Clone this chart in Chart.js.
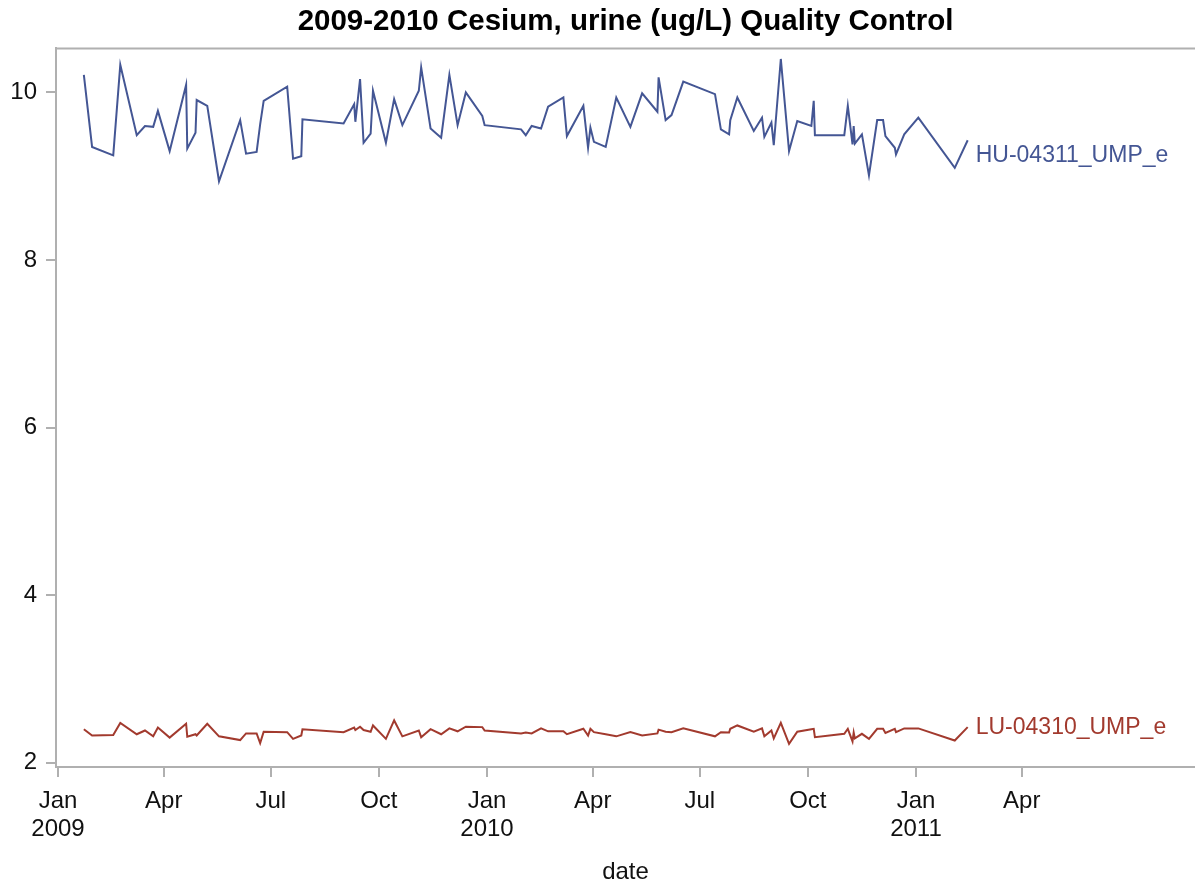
<!DOCTYPE html>
<html>
<head>
<meta charset="utf-8">
<script src="https://cdn.jsdelivr.net/npm/chart.js@4"></script>
<style>
  html, body { margin: 0; padding: 0; background: #fff; }
  #wrap { width: 1195px; height: 886px; }
</style>
</head>
<body>
<div id="wrap"><canvas id="myChart" width="1195" height="886"></canvas></div>
<script>
// run dates (shared by both QC pools)
const runDates = [
    '2009-01-23', '2009-01-30', '2009-02-17', '2009-02-23', '2009-03-09', '2009-03-16', '2009-03-23', '2009-03-27',
    '2009-04-06', '2009-04-20', '2009-04-21', '2009-04-28', '2009-04-29', '2009-05-08', '2009-05-18', '2009-06-05',
    '2009-06-10', '2009-06-19', '2009-06-22', '2009-06-25', '2009-07-15', '2009-07-20', '2009-07-27', '2009-07-28',
    '2009-09-01', '2009-09-10', '2009-09-11', '2009-09-15', '2009-09-18', '2009-09-24', '2009-09-26', '2009-10-07',
    '2009-10-14', '2009-10-21', '2009-11-04', '2009-11-06', '2009-11-14', '2009-11-23', '2009-11-30', '2009-12-07',
    '2009-12-14', '2009-12-28', '2009-12-30', '2010-01-30', '2010-02-03', '2010-02-08', '2010-02-16', '2010-02-22',
    '2010-03-07', '2010-03-10', '2010-03-24', '2010-03-28', '2010-03-30', '2010-04-02', '2010-04-12', '2010-04-21',
    '2010-05-03', '2010-05-13', '2010-05-26', '2010-05-27', '2010-06-02', '2010-06-07', '2010-06-17', '2010-07-14',
    '2010-07-19', '2010-07-26', '2010-07-27', '2010-08-02', '2010-08-16', '2010-08-23', '2010-08-25', '2010-08-31',
    '2010-09-02', '2010-09-08', '2010-09-15', '2010-09-22', '2010-10-04', '2010-10-06', '2010-10-07', '2010-11-01',
    '2010-11-04', '2010-11-08', '2010-11-09', '2010-11-10', '2010-11-16', '2010-11-22', '2010-11-29', '2010-12-04',
    '2010-12-06', '2010-12-14', '2010-12-15', '2010-12-22', '2011-01-03', '2011-02-03', '2011-02-14'
];

const huValues = [
    10.21, 9.35, 9.25, 10.33, 9.49, 9.60, 9.59, 9.78, 9.30, 10.09, 9.33, 9.52, 9.91, 9.84, 8.94, 9.67,
    9.27, 9.29, 9.62, 9.90, 10.07, 9.21, 9.24, 9.68, 9.63, 9.86, 9.65, 10.16, 9.40, 9.51, 10.02, 9.40,
    9.92, 9.61, 10.02, 10.30, 9.57, 9.46, 10.21, 9.61, 10.00, 9.72, 9.61, 9.56, 9.49, 9.60, 9.57, 9.83,
    9.94, 9.48, 9.84, 9.34, 9.58, 9.41, 9.35, 9.94, 9.59, 9.99, 9.77, 10.18, 9.67, 9.73, 10.13, 9.98,
    9.56, 9.50, 9.67, 9.94, 9.54, 9.70, 9.47, 9.64, 9.37, 10.40, 9.30, 9.66, 9.60, 9.90, 9.49, 9.49,
    9.84, 9.38, 9.60, 9.39, 9.50, 9.01, 9.67, 9.67, 9.48, 9.34, 9.26, 9.50, 9.70, 9.10, 9.43
];

const luValues = [
    2.40, 2.325, 2.33, 2.475, 2.34, 2.385, 2.315, 2.42, 2.30, 2.465, 2.31, 2.34, 2.325, 2.465, 2.315, 2.27,
    2.35, 2.35, 2.235, 2.37, 2.365, 2.285, 2.325, 2.40, 2.365, 2.42, 2.39, 2.43, 2.39, 2.37, 2.445, 2.285,
    2.505, 2.315, 2.385, 2.305, 2.40, 2.34, 2.41, 2.375, 2.43, 2.425, 2.385, 2.35, 2.36, 2.35, 2.41, 2.375,
    2.375, 2.34, 2.405, 2.325, 2.405, 2.365, 2.34, 2.315, 2.365, 2.325, 2.35, 2.395, 2.37, 2.365, 2.41, 2.315,
    2.365, 2.36, 2.405, 2.445, 2.37, 2.41, 2.315, 2.385, 2.29, 2.475, 2.225, 2.37, 2.40, 2.405, 2.305, 2.345,
    2.405, 2.255, 2.36, 2.29, 2.345, 2.285, 2.405, 2.405, 2.355, 2.405, 2.365, 2.41, 2.41, 2.265, 2.425
];

const seriesNames = ['HU-04311_UMP_e', 'LU-04310_UMP_e'];
const seriesColors = ['#445694', '#A23A2E'];

const xTickDates = ['2009-01-01', '2009-04-01', '2009-07-01', '2009-10-01', '2010-01-01', '2010-04-01',
    '2010-07-01', '2010-10-01', '2011-01-01', '2011-04-01'];
const xTickLabels = [['Jan', '2009'], 'Apr', 'Jul', 'Oct', ['Jan', '2010'], 'Apr', 'Jul', 'Oct', ['Jan', '2011'], 'Apr'];
const yTickValues = [2, 4, 6, 8, 10];

const chartTitle = '2009-2010 Cesium, urine (ug/L) Quality Control';
const xAxisTitle = 'date';

// days since 2009-01-01
const origin = Date.UTC(2009, 0, 1);
function toDays(s) {
    const p = s.split('-').map(Number);
    return (Date.UTC(p[0], p[1] - 1, p[2]) - origin) / 86400000;
}

const FONT = "'Liberation Sans', Arial, sans-serif";
const axisGray = '#b0b0b0';
const endLabelShift = [15, 1]; // vertical nudge of end labels

const framePlugin = {
    id: 'frame',
    afterDraw(chart) {
        const { ctx, chartArea } = chart;
        ctx.save();
        ctx.strokeStyle = axisGray;
        ctx.lineWidth = 2;
        ctx.beginPath();
        ctx.moveTo(chartArea.left, chartArea.bottom);
        ctx.lineTo(chartArea.left, chartArea.top);
        ctx.lineTo(chart.width + 2, chartArea.top);
        ctx.stroke();
        ctx.restore();
    }
};

const endLabelPlugin = {
    id: 'endLabels',
    afterDatasetsDraw(chart) {
        const ctx = chart.ctx;
        ctx.save();
        ctx.font = '23px ' + FONT;
        ctx.textAlign = 'left';
        ctx.textBaseline = 'middle';
        chart.data.datasets.forEach((ds, i) => {
            const pts = chart.getDatasetMeta(i).data;
            const last = pts[pts.length - 1];
            ctx.fillStyle = seriesColors[i];
            ctx.fillText(ds.label, last.x + 8, last.y + endLabelShift[i]);
        });
        ctx.restore();
    }
};

const ctx = document.getElementById('myChart').getContext('2d');
const myChart = new Chart(ctx, {
    type: 'line',
    data: {
        datasets: [huValues, luValues].map((vals, i) => ({
            label: seriesNames[i],
            data: vals.map((v, j) => ({ x: toDays(runDates[j]), y: v })),
            borderColor: seriesColors[i],
            borderWidth: 2,
            pointRadius: 0,
            tension: 0,
            fill: false
        }))
    },
    options: {
        responsive: false,
        animation: false,
        layout: { padding: { left: 0, right: 0, top: 0, bottom: 0 } },
        plugins: {
            legend: { display: false },
            tooltip: { enabled: false },
            title: {
                display: true,
                fullSize: false,
                text: chartTitle,
                color: '#000',
                font: { family: FONT, size: 29.5, weight: 'bold' },
                padding: { top: 4, bottom: 9 }
            }
        },
        scales: {
            x: {
                type: 'linear',
                min: -1.7,
                max: 967.4,
                afterBuildTicks: (scale) => {
                    scale.ticks = xTickDates.map(d => ({ value: toDays(d) }));
                },
                afterFit: (scale) => { scale.height = 119; },
                ticks: {
                    autoSkip: false,
                    maxRotation: 0,
                    color: '#111',
                    padding: 10,
                    font: { family: FONT, size: 24, lineHeight: 1.17 },
                    callback: (value, index) => xTickLabels[index]
                },
                grid: {
                    drawOnChartArea: false,
                    drawTicks: true,
                    tickLength: 10,
                    color: axisGray,
                    lineWidth: 2
                },
                border: { color: axisGray, width: 2 },
                title: {
                    display: true,
                    text: xAxisTitle,
                    color: '#111',
                    font: { family: FONT, size: 24, lineHeight: 1.17 },
                    padding: { top: 0, bottom: 0 }
                }
            },
            y: {
                type: 'linear',
                min: 1.949,
                max: 10.526,
                afterBuildTicks: (scale) => {
                    scale.ticks = yTickValues.map(v => ({ value: v }));
                },
                afterFit: (scale) => { scale.width = 56; },
                ticks: {
                    color: '#111',
                    padding: 9,
                    font: { family: FONT, size: 24 }
                },
                grid: {
                    drawOnChartArea: false,
                    drawTicks: true,
                    tickLength: 10,
                    color: axisGray,
                    lineWidth: 2
                },
                border: { color: axisGray, width: 2 }
            }
        }
    },
    plugins: [framePlugin, endLabelPlugin]
});
</script>
</body>
</html>
